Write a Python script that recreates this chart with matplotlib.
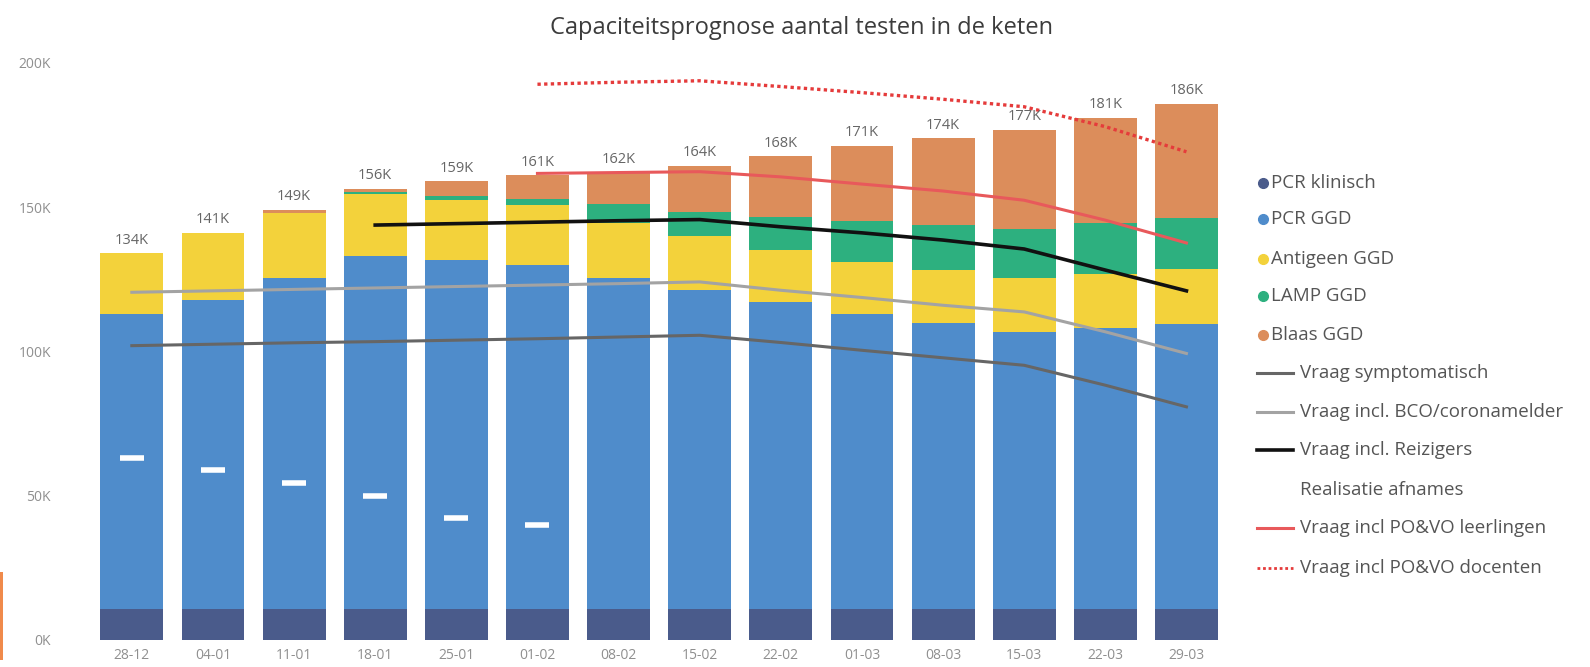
import numpy as np
import matplotlib.pyplot as plt
from matplotlib.lines import Line2D
from matplotlib.patches import Rectangle

plt.rcParams['font.family'] = ['Open Sans', 'DejaVu Sans']

weeks = ["28-12", "04-01", "11-01", "18-01", "25-01", "01-02", "08-02",
         "15-02", "22-02", "01-03", "08-03", "15-03", "22-03", "29-03"]

# capacity per test type, in thousands
pcr_klinisch = [10.6] * 14
pcr_ggd = [102.4, 107.4, 114.9, 122.4, 121.0, 119.3, 114.9, 110.6, 106.4, 102.5, 99.4, 96.2, 97.6, 98.8]
antigeen_ggd = [21.0, 23.0, 22.5, 21.4, 20.8, 20.8, 18.9, 18.9, 18.3, 18.0, 18.2, 18.7, 18.8, 19.1]
lamp_ggd = [0, 0, 0, 1.0, 1.6, 2.3, 6.7, 8.3, 11.4, 14.1, 15.6, 16.8, 17.4, 17.6]
blaas_ggd = [0, 0, 1.0, 0.9, 4.9, 8.0, 10.8, 15.8, 20.9, 26.0, 30.0, 34.4, 36.6, 39.7]

# demand lines (None = no value)
vraag_sympt = [102.0, 102.5, 103.0, 103.4, 103.9, 104.4, 105.0, 105.6, 103.1, 100.4, 97.8, 95.2, 88.3, 80.8]
vraag_bco = [120.5, 121.0, 121.5, 122.0, 122.5, 123.0, 123.5, 124.1, 121.2, 118.7, 116.0, 113.7, 106.8, 99.3]
vraag_reiz = [None, None, None, 143.8, 144.3, 144.8, 145.3, 145.7, 143.2, 141.1, 138.6, 135.5, 128.2, 121.0]
realisatie = [62.9, 58.8, 54.5, 49.9, 42.2, 39.9, None, None, None, None, None, None, None, None]
vraag_leerl = [None, None, None, None, None, 161.7, 162.0, 162.3, 160.5, 158.0, 155.6, 152.4, 145.5, 137.6]
vraag_doc = [None, None, None, None, None, 192.6, 193.3, 193.8, 191.8, 189.7, 187.4, 184.8, 177.9, 169.2]

c_klin = "#4a5b8b"
c_pcr = "#4f8ccb"
c_ag = "#f3d23b"
c_lamp = "#2db07f"
c_blaas = "#dc8d5b"
c_sympt = "#666666"
c_bco = "#a3a3a3"
c_reiz = "#111111"
c_leerl = "#e8595b"
c_doc = "#e53b3b"

def arr(v):
    return np.array([np.nan if x is None else x for x in v], dtype=float)

fig = plt.figure(figsize=(15.9, 6.67), dpi=100)
ax = fig.add_axes([0.0574, 0.0405, 0.7143, 0.8652])

x = np.arange(len(weeks))
w = 0.775
bottom = np.zeros(len(weeks))
for vals, col in [(pcr_klinisch, c_klin), (pcr_ggd, c_pcr), (antigeen_ggd, c_ag),
                  (lamp_ggd, c_lamp), (blaas_ggd, c_blaas)]:
    ax.bar(x, vals, w, bottom=bottom, color=col, linewidth=0)
    bottom = bottom + np.array(vals)

for xi, tot in zip(x, bottom):
    ax.text(xi, tot + 2, f"{round(tot)}K", ha="center", va="bottom",
            fontsize=10.5, color="#666666", clip_on=False)

ax.plot(x, arr(vraag_sympt), color=c_sympt, lw=2.2)
ax.plot(x, arr(vraag_bco), color=c_bco, lw=2.2)
ax.plot(x, arr(vraag_reiz), color=c_reiz, lw=2.6)
ax.plot(x, arr(realisatie), ls="none", marker="_", ms=17, mew=4, color="white")
ax.plot(x, arr(vraag_leerl), color=c_leerl, lw=2.2)
ax.plot(x, arr(vraag_doc), color=c_doc, lw=2.4, ls=(0, (1, 1)))

ax.set_xlim(-0.5, len(weeks) - 0.5)
ax.set_ylim(0, 200)
ax.set_yticks([0, 50, 100, 150, 200])
ax.set_yticklabels(["0K", "50K", "100K", "150K", "200K"])
ax.set_xticks(x)
ax.set_xticklabels(weeks)
ax.tick_params(axis="both", length=0, labelsize=10, labelcolor="#8f8f8f")
ax.tick_params(axis="y", pad=29)
ax.tick_params(axis="x", pad=6)
for s in ax.spines.values():
    s.set_visible(False)

fig.text(0.504, 0.958, "Capaciteitsprognose aantal testen in de keten",
         ha="center", va="center", fontsize=17, color="#3c3c3c")

# legend drawn by hand to mimic the Power BI layout
W, H = 1590, 667
leg_y = [182.5, 219, 258.6, 296, 334.6, 373, 411.7, 450, 490, 528, 568]
dot_items = [("PCR klinisch", c_klin), ("PCR GGD", c_pcr), ("Antigeen GGD", c_ag),
             ("LAMP GGD", c_lamp), ("Blaas GGD", c_blaas)]
for (lab, col), yy in zip(dot_items, leg_y[:5]):
    fy = 1 - yy / H
    fig.add_artist(Line2D([1263 / W], [fy], marker="o", ms=7, color=col, ls="none"))
    fig.text(1271 / W, fy, lab, ha="left", va="center", fontsize=13.5, color="#555555")
line_items = [("Vraag symptomatisch", c_sympt, "-", 2.2),
              ("Vraag incl. BCO/coronamelder", c_bco, "-", 2.2),
              ("Vraag incl. Reizigers", c_reiz, "-", 2.6),
              ("Realisatie afnames", "white", "-", 2.2),
              ("Vraag incl PO&VO leerlingen", c_leerl, "-", 2.2),
              ("Vraag incl PO&VO docenten", c_doc, (0, (1, 1)), 2.0)]
for (lab, col, ls, lw), yy in zip(line_items, leg_y[5:]):
    fy = 1 - yy / H
    fig.add_artist(Line2D([1257 / W, 1293 / W], [fy, fy], color=col, ls=ls, lw=lw))
    fig.text(1300 / W, fy, lab, ha="left", va="center", fontsize=13.5, color="#555555")

fig.add_artist(Rectangle((0, 1 - 660 / H), 3 / W, 88 / H, color="#f08a4b", lw=0))

fig.savefig("out.png", dpi=100)
